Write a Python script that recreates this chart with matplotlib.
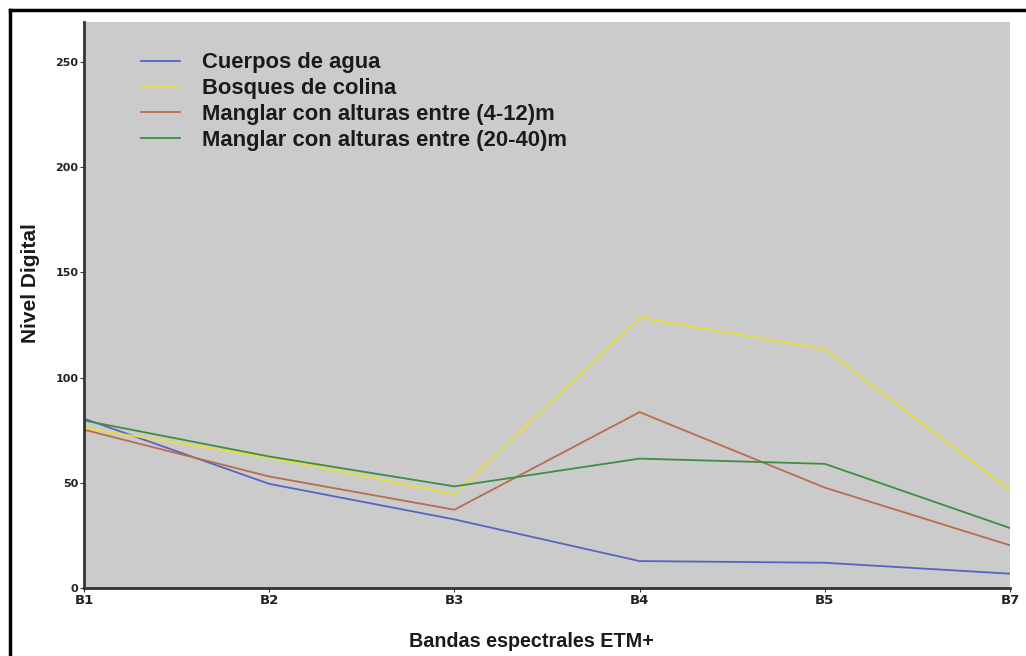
import matplotlib
matplotlib.use("Agg")
import matplotlib.pyplot as plt
from matplotlib.lines import Line2D

bandas = ["B1", "B2", "B3", "B4", "B5", "B7"]
agua = [80.5, 49.5, 32.6, 12.8, 12.0, 6.8]
colina = [76.0, 62.0, 44.5, 128.5, 113.5, 46.5]
manglar_bajo = [75.2, 53.0, 37.2, 83.6, 47.7, 20.3]
manglar_alto = [79.6, 62.5, 48.3, 61.5, 59.0, 28.5]

series = [
    ("Cuerpos de agua", agua, "#5a63c4"),
    ("Bosques de colina", colina, "#e8df3c"),
    ("Manglar con alturas entre (4-12)m", manglar_bajo, "#b96c4e"),
    ("Manglar con alturas entre (20-40)m", manglar_alto, "#3f8e3f"),
]

fig = plt.figure(figsize=(10.26, 6.56), dpi=100)
ax = fig.add_axes([84/1026, 68/656, 926/1026, 566/656])
ax.set_facecolor("#cbcbcb")

x = list(range(len(bandas)))
for nombre, vals, col in series:
    ax.plot(x, vals, color=col, lw=1.3, label=nombre)

ax.set_xlim(0, len(bandas) - 1)
ax.set_ylim(0, 269)
ax.set_xticks(x)
ax.set_xticklabels(bandas)
ax.set_yticks([0, 50, 100, 150, 200, 250])

for s in ["top", "right"]:
    ax.spines[s].set_visible(False)
for s in ["left", "bottom"]:
    ax.spines[s].set_color("#333333")
    ax.spines[s].set_linewidth(2)

ax.tick_params(axis="both", length=3, width=0.8, color="#333333", pad=1)
for lab in ax.get_xticklabels():
    lab.set_fontsize(9.5)
    lab.set_fontweight("bold")
    lab.set_color("#222222")
for lab in ax.get_yticklabels():
    lab.set_fontsize(8)
    lab.set_fontweight("bold")
    lab.set_color("#222222")

ax.set_xlabel("Bandas espectrales ETM+", fontsize=14.2, fontweight="bold",
              family="Liberation Sans", color="#1a1a1a")
ax.xaxis.set_label_coords(0.483, -0.077)
ax.set_ylabel("Nivel Digital", fontsize=15, fontweight="bold",
              family="Liberation Sans", color="#1a1a1a")
ax.yaxis.set_label_coords(-0.047, 0.539)

leg = ax.legend(loc="upper left", bbox_to_anchor=(0.0497, 0.966), frameon=False,
                prop={"family": "Liberation Sans", "weight": "bold", "size": 15.8},
                borderpad=0, handlelength=1.8, handletextpad=1.0,
                labelspacing=0.22)
for t in leg.get_texts():
    t.set_color("#1a1a1a")

# marco exterior
fig.add_artist(Line2D([10/1026, 10/1026], [0, 1 - 10/656], color="black",
                      lw=2.5, transform=fig.transFigure))
fig.add_artist(Line2D([10/1026, 1], [1 - 10/656, 1 - 10/656], color="black",
                      lw=2.5, transform=fig.transFigure))

fig.savefig("out.png", dpi=100)
